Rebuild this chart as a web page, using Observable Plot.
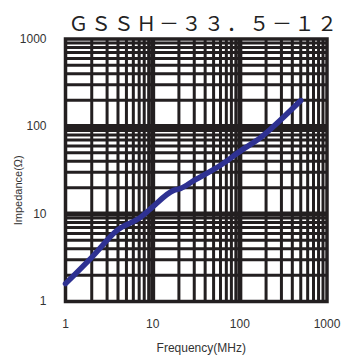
<!DOCTYPE html>
<html><head><meta charset="utf-8">
<script src="https://cdn.jsdelivr.net/npm/d3@7"></script>
<script src="https://cdn.jsdelivr.net/npm/@observablehq/plot@0.6"></script>
<style>body{margin:0;background:#fff;}#c{width:346px;height:360px;}</style>
</head><body><div id="c"></div>
<script>
const title = "ＧＳＳＨ－３３．５－１２";
const xLabel = "Frequency(MHz)";
const yLabel = "Impedance(Ω)";
const freq = [1, 2, 3.9, 7.3, 9.5, 17.4, 21, 29.6, 60, 103, 174, 227, 500];
const imped = [1.6, 3.2, 6.5, 9.2, 11.5, 18.6, 19.6, 24, 36, 53, 75, 94, 198];
const majorTicks = [1, 10, 100, 1000];
const minorMult = [2, 3, 4, 5, 6, 7, 8, 9];
const minorTicks = [1, 10, 100].flatMap(d => minorMult.map(m => d * m));
const inner = [10, 100];
const data = freq.map((f, i) => ({f, z: imped[i]}));

const plot = Plot.plot({
  width: 346, height: 360,
  marginLeft: 65, marginRight: 19.5, marginTop: 38.5, marginBottom: 59,
  style: {fontFamily: "Liberation Sans, Arial, sans-serif", background: "#fff"},
  x: {type: "log", domain: [1, 1000]},
  y: {type: "log", domain: [1, 1000]},
  marks: [
    Plot.ruleX(minorTicks, {stroke: "#231f20", strokeWidth: 3}),
    Plot.ruleY(minorTicks, {stroke: "#231f20", strokeWidth: 3}),
    Plot.ruleX(inner, {stroke: "#231f20", strokeWidth: 5}),
    Plot.ruleY(inner, {stroke: "#231f20", strokeWidth: 5}),
    Plot.frame({stroke: "#231f20", strokeWidth: 3.5}),
    Plot.line(data, {x: "f", y: "z", stroke: "#2e3192", strokeWidth: 5.5, curve: "monotone-x", strokeLinecap: "round"}),
    Plot.axisX(majorTicks, {tickSize: 0, tickPadding: 18, fontSize: 12, fill: "#333", tickFormat: d => String(d), label: null}),
    Plot.axisY(majorTicks, {tickSize: 0, tickPadding: 19, fontSize: 12, fill: "#333", tickFormat: d => String(d), label: null}),
    Plot.text([xLabel], {frameAnchor: "bottom", dy: 50, dx: 5, fontSize: 12, fill: "#333"}),
    Plot.text([yLabel], {frameAnchor: "left", textAnchor: "middle", lineAnchor: "middle", rotate: -90, dx: -47, dy: 20, fontSize: 11, fill: "#333"}),
    Plot.text([title], {frameAnchor: "top-left", textAnchor: "start", dy: -22, dx: 3, fontSize: 20, fill: "#222", fontFamily: "Noto Sans CJK JP"})
  ]
});
d3.select(plot).selectAll("text").filter(function(){ return this.textContent === title; }).style("letter-spacing", "2.6px");
document.getElementById("c").append(plot);
</script></body></html>
